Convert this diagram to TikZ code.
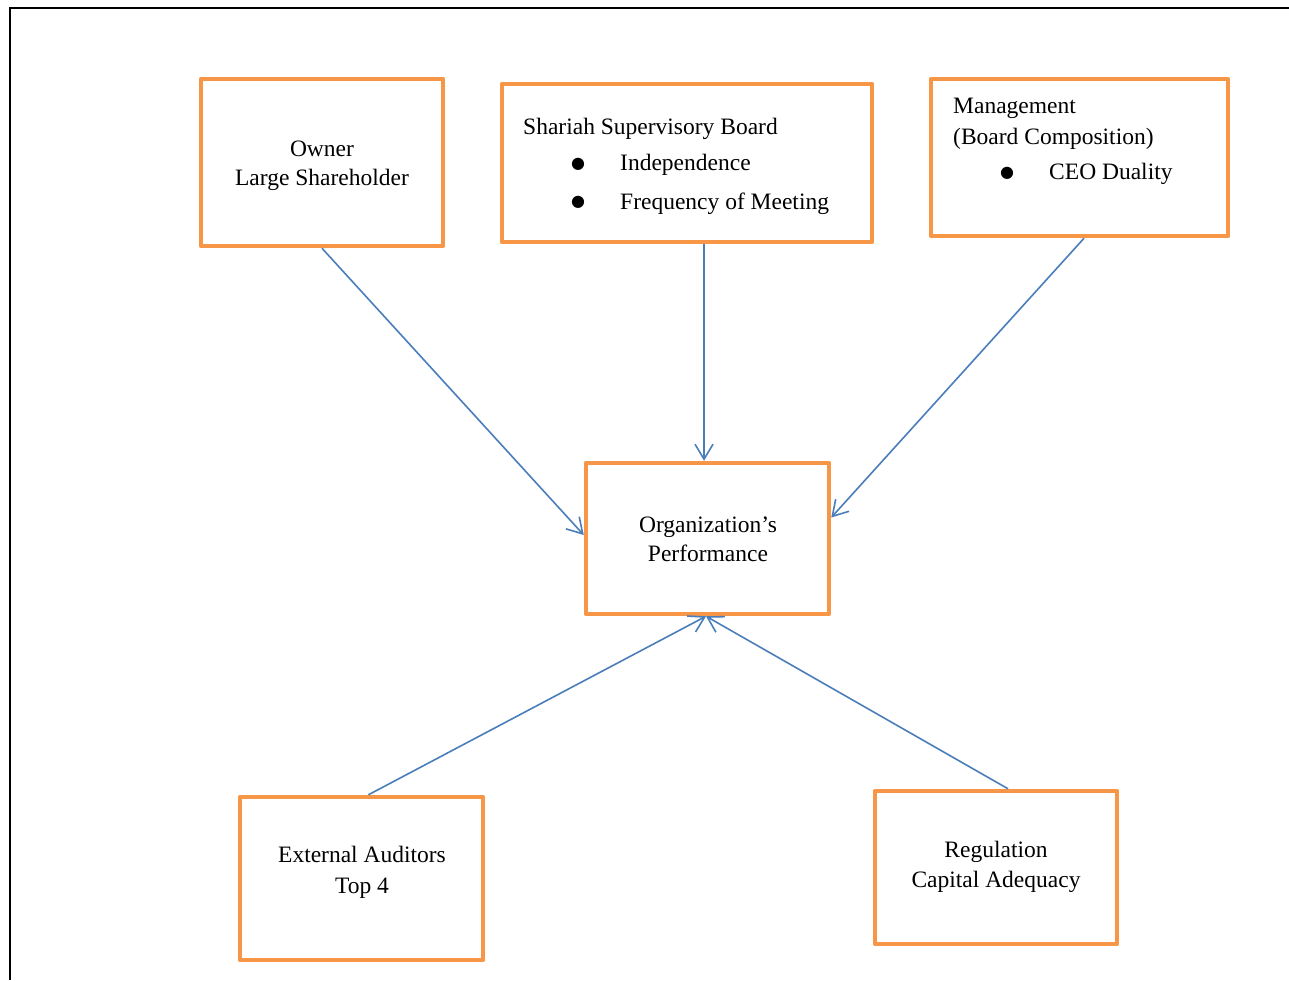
\documentclass[tikz,border=0pt]{standalone}
\usepackage{fontspec}
\setmainfont{Liberation Serif}
\newfontfamily\bulletfont{DejaVu Sans}
\usetikzlibrary{arrows.meta}
\definecolor{boxorange}{HTML}{F79646}
\definecolor{arrblue}{HTML}{4A7EBB}
\tikzset{
  box/.style={draw=boxorange, line width=4.5pt, line join=round, rectangle, inner sep=0pt},
  lbl/.style={inner sep=0pt, font=\fontsize{23.5}{28}\selectfont, text=black},
  bul/.style={inner sep=0pt, font=\bulletfont\fontsize{16}{16}\selectfont, text=black, anchor=base},
  arr/.style={draw=arrblue, line width=1.6pt, -{Straight Barb[length=15pt,width=18pt,line width=1.6pt]}},
  frame/.style={draw=black, line width=2.5pt}
}
\begin{document}
\begin{tikzpicture}[x=1pt,y=-1pt]
\useasboundingbox (0,0) rectangle (1289,980);
\fill[white] (0,0) rectangle (1289,980);
\draw[frame] (1289,8) -- (10,8) -- (10,980);

% boxes
\node[box, minimum width=242pt, minimum height=167pt] (owner) at (322,162.5) {};
\node[box, minimum width=370pt, minimum height=158pt] (ssb) at (687,163) {};
\node[box, minimum width=297pt, minimum height=157pt] (mgmt) at (1079.5,157.5) {};
\node[box, minimum width=243pt, minimum height=151pt] (org) at (707.5,538.5) {};
\node[box, minimum width=243pt, minimum height=163pt] (ext) at (361.5,878.5) {};
\node[box, minimum width=242pt, minimum height=153pt] (reg) at (996,867.5) {};

% texts
\node[lbl, anchor=base] (ownerA) at (322,156) {Owner};
\node[lbl, anchor=base] (ownerB) at (322,185) {Large Shareholder};

\node[lbl, anchor=base west] (ssbA) at (523,134) {Shariah Supervisory Board};
\node[bul] (ssbB1) at (578,168) {●};
\node[lbl, anchor=base west] (ssbB) at (620,170) {Independence};
\node[bul] (ssbC1) at (578,206) {●};
\node[lbl, anchor=base west] (ssbC) at (620,209) {Frequency of Meeting};

\node[lbl, anchor=base west] (mgmtA) at (953,113) {Management};
\node[lbl, anchor=base west] (mgmtB) at (953,144) {(Board Composition)};
\node[bul] (mgmtC1) at (1007,177) {●};
\node[lbl, anchor=base west] (mgmtC) at (1049,179) {CEO Duality};

\node[lbl, anchor=base] (orgA) at (708,532) {Organization’s};
\node[lbl, anchor=base] (orgB) at (708,561) {Performance};

\node[lbl, anchor=base] (extA) at (362,862) {External Auditors};
\node[lbl, anchor=base] (extB) at (362,893) {Top 4};

\node[lbl, anchor=base] (regA) at (996,857) {Regulation};
\node[lbl, anchor=base] (regB) at (996,887) {Capital Adequacy};

% connectors
\draw[arr] (owner.south) -- ([yshift=3.5pt]org.west);
\draw[arr] ([xshift=-3.5pt]org.north |- ssb.south) -- ([xshift=-3.5pt]org.north);
\draw[arr] ([xshift=4.5pt]mgmt.south) -- ([yshift=21pt]org.east);
\draw[arr] ([xshift=7pt]ext.north) -- ([xshift=-1.5pt]org.south);
\draw[arr] ([xshift=12pt]reg.north) -- ([xshift=-1.5pt]org.south);
\end{tikzpicture}
\end{document}
